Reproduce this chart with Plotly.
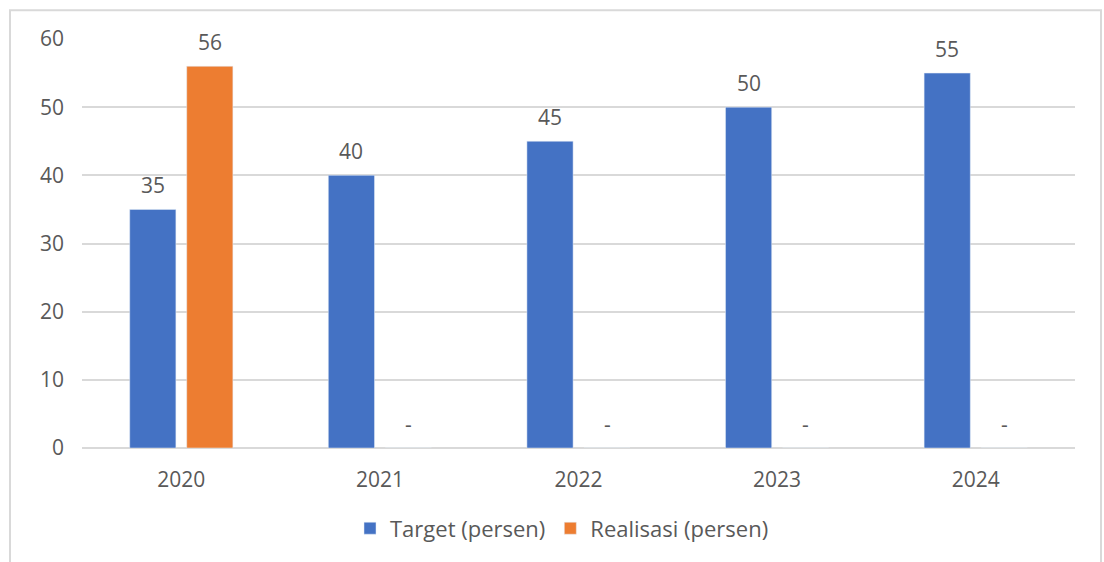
import plotly.graph_objects as go

years = ["2020", "2021", "2022", "2023", "2024"]
target = [35, 40, 45, 50, 55]
realisasi = [56, 0, 0, 0, 0]
target_labels = ["35", "40", "45", "50", "55"]
realisasi_labels = ["56", "-", "-", "-", "-"]

W, H = 1104, 562
L, R, T, B = 82, 29, 39, 111
pw, ph = W - L - R, H - T - B

def px_x(x):
    return (x - L) / pw

def px_y(y):
    return (H - B - y) / ph

txt = "#595959"
font = "Open Sans"
FS = 21

fig = go.Figure()
fig.add_trace(go.Bar(x=years, y=target, name="Target (persen)", marker_color="#4472C4"))
fig.add_trace(go.Bar(x=years, y=realisasi, name="Realisasi (persen)", marker_color="#ED7D31"))

annotations = []
for i, (v, lab) in enumerate(zip(target, target_labels)):
    annotations.append(dict(x=i, y=v, xref="x", yref="y", text=lab, showarrow=False,
                            xshift=-28.5, yshift=24, yanchor="middle",
                            font=dict(size=FS, color=txt, family=font)))
for i, (v, lab) in enumerate(zip(realisasi, realisasi_labels)):
    annotations.append(dict(x=i, y=v, xref="x", yref="y", text=lab, showarrow=False,
                            xshift=28.5, yshift=24, yanchor="middle",
                            font=dict(size=FS, color=txt, family=font)))

fig.update_layout(
    width=W, height=H,
    margin=dict(l=L, r=R, t=T, b=B),
    paper_bgcolor="white", plot_bgcolor="white",
    barmode="group", bargap=0.426, bargroupgap=0.19,
    font=dict(family=font, color=txt, size=FS),
    showlegend=True,
    legend=dict(orientation="h", x=px_x(562), xanchor="center", y=px_y(532), yanchor="middle",
                font=dict(size=22, color=txt, family=font), itemwidth=30,
                traceorder="normal"),
    annotations=annotations,
    shapes=[dict(type="rect", xref="paper", yref="paper",
                 x0=px_x(10), x1=px_x(1101), y0=px_y(575), y1=px_y(10),
                 line=dict(color="#d9d9d9", width=2), fillcolor="rgba(0,0,0,0)", layer="below")],
)
fig.update_yaxes(range=[0, 60], dtick=10, showgrid=True, gridcolor="#d9d9d9", gridwidth=1.5,
                 zeroline=True, zerolinecolor="#d9d9d9", zerolinewidth=1.5,
                 showline=False, ticks="", ticklabelstandoff=17,
                 tickfont=dict(size=FS, color=txt, family=font))
fig.update_xaxes(type="category", range=[-0.5, len(years) - 0.5], showgrid=False,
                 showline=False, ticks="", ticklabelstandoff=17,
                 tickfont=dict(size=FS, color=txt, family=font))

fig.write_html("out.html")
